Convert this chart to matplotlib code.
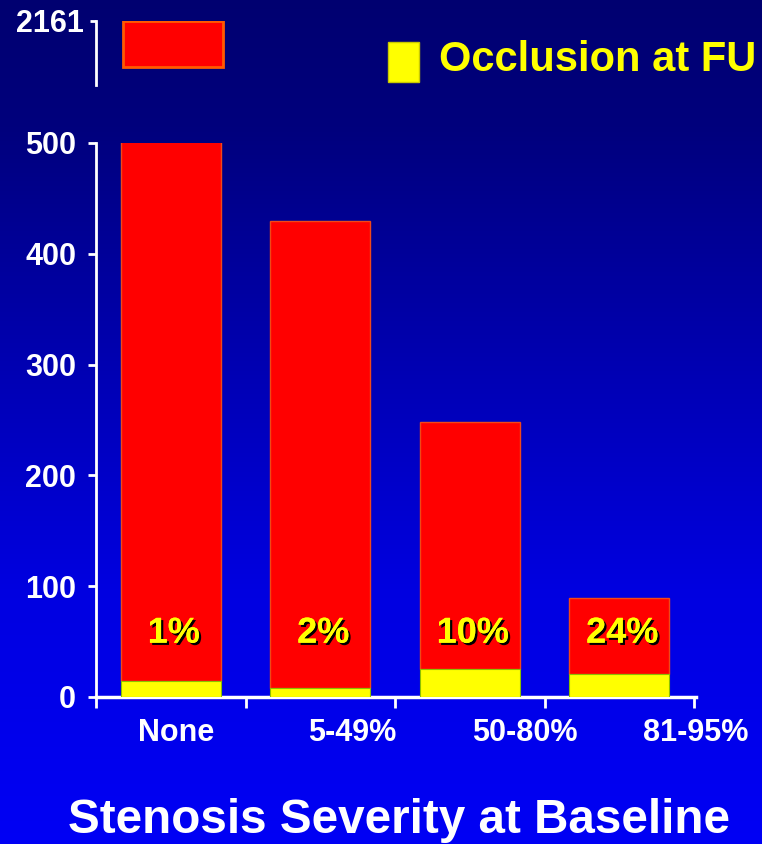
import numpy as np
import matplotlib
matplotlib.use("Agg")
import matplotlib.pyplot as plt
from matplotlib.patches import Rectangle
import matplotlib.patheffects as pe

# Data
categories = ["None", "5-49%", "50-80%", "81-95%"]
totals = [2161, 430, 248, 89]          # patients per stenosis group
occlusions = [14, 8, 25, 21]           # occlusions at follow-up
y_ticks = [0, 100, 200, 300, 400, 500]
break_tick = 2161
legend_label = "Occlusion at FU"
x_title = "Stenosis Severity at Baseline"

plt.rcParams['font.family'] = ['Liberation Sans', 'DejaVu Sans']
plt.rcParams['font.weight'] = 'bold'

W, H = 762, 844
fig = plt.figure(figsize=(W / 100, H / 100), dpi=100)


def box(x0, y0, x1, y1):
    """Axes rectangle from pixel edges (origin top-left)."""
    return [x0 / W, 1 - y1 / H, (x1 - x0) / W, (y1 - y0) / H]


# Navy-to-blue vertical gradient background
bg = fig.add_axes([0, 0, 1, 1], zorder=-10)
bg.axis('off')
t = np.linspace(0, 1, 512)
blue = np.interp(t, [0, 0.15, 0.45, 0.7, 1.0], [0.44, 0.49, 0.71, 0.88, 0.96])
grad = np.zeros((512, 1, 3))
grad[:, 0, 2] = blue
bg.imshow(grad, aspect='auto', extent=[0, 1, 0, 1], origin='upper')

RED = '#FF0000'
YELLOW = '#FFFF00'
WHITE = 'white'
x = np.arange(len(categories)) + 0.5
bar_w = 2 / 3
red_h = [tot - occ for tot, occ in zip(totals, occlusions)]

# Main axis (0-500)
ax = fig.add_axes(box(96, 143, 696, 697))
ax.set_facecolor('none')
ax.bar(x, red_h, bottom=occlusions, width=bar_w, color=RED,
       edgecolor='#F04818', linewidth=1.0, zorder=2)
ax.bar(x, occlusions, width=bar_w, color=YELLOW,
       edgecolor='#8CC000', linewidth=0.8, zorder=3)
ax.set_xlim(0, 4)
ax.set_ylim(0, 500)

for side in ('top', 'right'):
    ax.spines[side].set_visible(False)
ax.spines['left'].set_color(WHITE)
ax.spines['left'].set_linewidth(2)
ax.spines['bottom'].set_color(WHITE)
ax.spines['bottom'].set_linewidth(2.5)

ax.set_yticks(y_ticks)
ax.set_yticklabels([str(v) for v in y_ticks])
ax.tick_params(axis='y', direction='out', length=5.8, width=2, color=WHITE,
               labelcolor=WHITE, labelsize=22, pad=8.6)

# Tick marks at category boundaries, labels placed separately
ax.set_xticks(np.arange(0, 5))
ax.set_xticklabels([])
ax.tick_params(axis='x', which='major', direction='out', length=8, width=2,
               color=WHITE)
label_pos = [0.537, 1.713, 2.867, 4.013]
ax.set_xticks(label_pos, minor=True)
ax.set_xticklabels(categories, minor=True)
ax.tick_params(axis='x', which='minor', length=0, labelcolor=WHITE,
               labelsize=22, pad=15)

# Occlusion rate inside each bar
shadow = [pe.withSimplePatchShadow(offset=(1.6, -1.6), shadow_rgbFace='black',
                                   alpha=1.0), pe.Normal()]
for xi, tot, occ in zip(x, totals, occlusions):
    ax.text(xi + 0.02, 49, f"{round(100 * occ / tot)}%", ha='center',
            va='baseline', fontsize=26, color=YELLOW, path_effects=shadow,
            zorder=5)

# Upper segment of the broken axis showing the tall first bar
ax_top = fig.add_axes(box(96, 20.7, 696, 85))
ax_top.set_facecolor('none')
seg_floor = 1973
ax_top.set_xlim(0, 4)
ax_top.set_ylim(1900, break_tick)
ax_top.bar(x[0] + 0.01, totals[0] - seg_floor, bottom=seg_floor, width=bar_w,
           color=RED, edgecolor='#FF5A00', linewidth=2)
for side in ('top', 'right', 'bottom'):
    ax_top.spines[side].set_visible(False)
ax_top.spines['left'].set_color(WHITE)
ax_top.spines['left'].set_linewidth(2)
ax_top.set_xticks([])
ax_top.set_yticks([break_tick])
ax_top.set_yticklabels([str(break_tick)])
ax_top.tick_params(axis='y', direction='out', length=4.5, width=2, color=WHITE,
                   labelcolor=WHITE, labelsize=22, pad=4.5)

# Legend swatch and label
fig.add_artist(Rectangle((388 / W, 1 - 82 / H), 31 / W, 40 / H,
                         transform=fig.transFigure, facecolor=YELLOW,
                         edgecolor='#C8C800', linewidth=1))
fig.text(439 / W, 1 - 71 / H, legend_label, fontsize=30, color=YELLOW,
         ha='left', va='baseline')

# Axis title
fig.text(398.5 / W, 1 - 833 / H, x_title, fontsize=34.3, color=WHITE,
         ha='center', va='baseline')

fig.savefig('out.png', dpi=100)
